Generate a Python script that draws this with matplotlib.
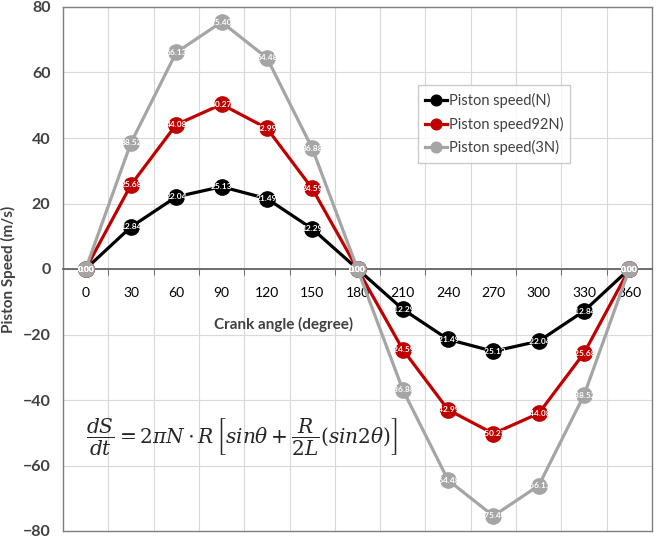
import matplotlib
matplotlib.use("Agg")
import matplotlib.pyplot as plt
from matplotlib.ticker import MultipleLocator, FixedLocator

angles = [0, 30, 60, 90, 120, 150, 180, 210, 240, 270, 300, 330, 360]
speed_n = [0.00, 12.84, 22.04, 25.13, 21.49, 12.29, 0.00, -12.29, -21.49, -25.13, -22.04, -12.84, 0.00]
speed_2n = [0.00, 25.68, 44.08, 50.27, 42.99, 24.59, 0.00, -24.59, -42.99, -50.27, -44.08, -25.68, 0.00]
speed_3n = [0.00, 38.52, 66.13, 75.40, 64.48, 36.88, 0.00, -36.88, -64.48, -75.40, -66.13, -38.52, 0.00]
series_names = ["Piston speed(N)", "Piston speed92N)", "Piston speed(3N)"]
colors = ["#000000", "#c00000", "#a5a5a5"]

plt.rcParams['font.family'] = ['Lato', 'DejaVu Sans']
plt.rcParams['mathtext.fontset'] = 'dejavuserif'

fig = plt.figure(figsize=(6.59, 5.39), dpi=100)
ax = fig.add_axes([63/659, 8/539, (652-63)/659, (532-8)/539])

ax.set_xlim(-15, 375)
ax.set_ylim(-80, 80)

ax.xaxis.set_minor_locator(FixedLocator(list(range(15, 360, 30))))
ax.set_xticks(angles)
ax.set_xticklabels([str(a) for a in angles], fontsize=11.5, fontweight='bold', color='#404040')
ax.yaxis.set_major_locator(MultipleLocator(20))
ax.grid(which='minor', axis='x', color='#d9d9d9', lw=0.8)
ax.grid(which='major', axis='y', color='#d9d9d9', lw=0.8)
ax.set_axisbelow(True)

ax.spines['bottom'].set_position(('data', 0))
ax.spines['bottom'].set_color('#595959')
ax.spines['bottom'].set_linewidth(1.2)
for s in ['left', 'top', 'right']:
    ax.spines[s].set_color('#7f7f7f')
    ax.spines[s].set_linewidth(1.0)
ax.plot([0, 1], [0, 0], transform=ax.transAxes, color='#7f7f7f', lw=1.0, clip_on=False)

ax.tick_params(axis='x', which='major', length=0, pad=13)
ax.tick_params(axis='x', which='minor', length=4, direction='out', color='#595959')
ax.tick_params(axis='y', length=0, pad=9, labelsize=11.5)
for lab in ax.get_yticklabels():
    lab.set_fontweight('bold')
    lab.set_color('#404040')

ax.set_ylabel("Piston Speed (m/s)", fontsize=11, fontweight='bold', color='#404040', labelpad=5)
ax.text(131, -17, "Crank angle (degree)", fontsize=11, fontweight='bold', color='#404040',
        ha='center', va='center')

for vals, name, c in zip([speed_n, speed_2n, speed_3n], series_names, colors):
    ax.plot(angles, vals, color=c, lw=2.3, marker='o', markersize=11, label=name, zorder=3)
    for a, v in zip(angles, vals):
        ax.text(a, v, "%.2f" % v, color='white', fontsize=6, fontweight='bold',
                ha='center', va='center', zorder=4)

leg = ax.legend(loc='upper left', bbox_to_anchor=((418-63)/589, 1-(92-14)/521),
                fontsize=10.5, frameon=True, fancybox=False, edgecolor='#bfbfbf',
                handlelength=1.5, handletextpad=0.1, borderpad=0.5, labelspacing=0.6,
                markerscale=0.7, borderaxespad=0)
leg.get_frame().set_linewidth(1.0)
for t in leg.get_texts():
    t.set_color('#404040')

ax.text(0, -51, r"$\dfrac{dS}{dt} = 2\pi N \cdot R\,\left[sin\theta + \dfrac{R}{2L}(sin2\theta)\right]$",
        fontsize=14.5, ha='left', va='center', color='#262626')

fig.savefig("out.png", dpi=100)
